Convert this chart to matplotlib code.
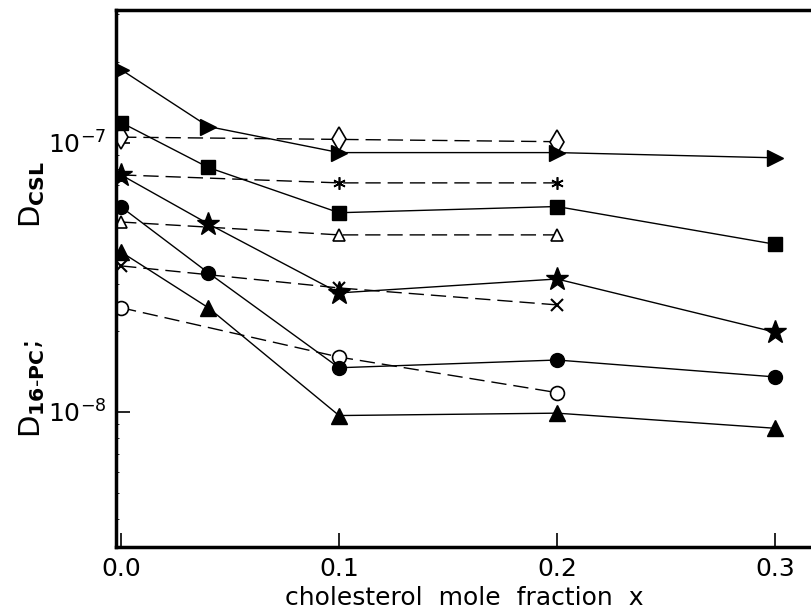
import matplotlib
matplotlib.use('Agg')
import matplotlib.pyplot as plt
from matplotlib.ticker import LogLocator, FixedLocator, FormatStrFormatter

# cholesterol mole fraction values
x_full = [0.0, 0.04, 0.1, 0.2, 0.3]
x_csl = [0.0, 0.1, 0.2]

# D_16-PC (solid lines, full symbols)
d_tri_right = [1.87e-7, 1.15e-7, 0.92e-7, 0.92e-7, 0.88e-7]
d_square = [1.19e-7, 0.81e-7, 0.55e-7, 0.58e-7, 0.42e-7]
d_star = [0.76e-7, 0.50e-7, 0.277e-7, 0.312e-7, 0.198e-7]
d_circle = [0.578e-7, 0.329e-7, 0.146e-7, 0.156e-7, 0.135e-7]
d_tri_up = [0.393e-7, 0.244e-7, 0.97e-8, 0.99e-8, 0.87e-8]

# D_CSL (dashed lines, open symbols)
c_diamond = [1.05e-7, 1.03e-7, 1.01e-7]
c_aster = [0.76e-7, 0.71e-7, 0.71e-7]
c_tri = [0.508e-7, 0.455e-7, 0.455e-7]
c_cross = [0.349e-7, 0.289e-7, 0.250e-7]
c_circle = [0.244e-7, 0.160e-7, 0.118e-7]

fig = plt.figure(figsize=(8.12, 6.16), dpi=100)
ax = fig.add_axes([0.143, 0.112, 0.857, 0.872])

solid = dict(color='black', lw=1.0, mfc='black', mec='black', zorder=3)
dashed = dict(color='black', lw=1.0, dashes=(11, 5), mec='black', zorder=2)

ax.plot(x_full, d_tri_right, marker='>', ms=11, **solid)
ax.plot(x_full, d_square, marker='s', ms=10, **solid)
ax.plot(x_full, d_star, marker='*', ms=17, **solid)
ax.plot(x_full, d_circle, marker='o', ms=10, **solid)
ax.plot(x_full, d_tri_up, marker='^', ms=11, **solid)

ax.plot(x_csl, c_diamond, marker='d', ms=12, mfc='white', mew=1.2, **dashed)
ax.plot(x_csl, c_aster, marker=(6, 2, 0), ms=9, mew=1.2, **dashed)
ax.plot(x_csl, c_tri, marker='^', ms=9, mfc='white', mew=1.2, **dashed)
ax.plot(x_csl, c_cross, marker='x', ms=8, mew=1.5, **dashed)
ax.plot(x_csl, c_circle, marker='o', ms=10, mfc='white', mew=1.2, **dashed)

ax.set_yscale('log')
ax.set_ylim(3.15e-9, 3.12e-7)
ax.set_xlim(-0.0023, 0.317)

ax.xaxis.set_major_locator(FixedLocator([0.0, 0.1, 0.2, 0.3]))
ax.xaxis.set_major_formatter(FormatStrFormatter('%.1f'))
ax.yaxis.set_major_locator(LogLocator(base=10))
ax.yaxis.set_minor_locator(LogLocator(base=10, subs=range(2, 10)))
ax.yaxis.set_minor_formatter(plt.NullFormatter())

ax.tick_params(axis='both', which='major', direction='in', length=10,
               width=1.2, labelsize=18, pad=7)
ax.tick_params(axis='y', which='minor', direction='in', length=2, width=0.6)
ax.tick_params(top=False, right=False)

for side in ['left', 'bottom', 'top']:
    ax.spines[side].set_linewidth(2.5)
ax.spines['right'].set_visible(False)

ax.set_xlabel('cholesterol  mole  fraction  x', fontsize=18, labelpad=4)
ax.set_ylabel(r'D$_{\mathbf{16\text{-}PC}}$;            D$_{\mathbf{CSL}}$',
              fontsize=21, labelpad=2)
ax.yaxis.set_label_coords(-0.10, 0.46)

fig.savefig('out.png', dpi=100)
